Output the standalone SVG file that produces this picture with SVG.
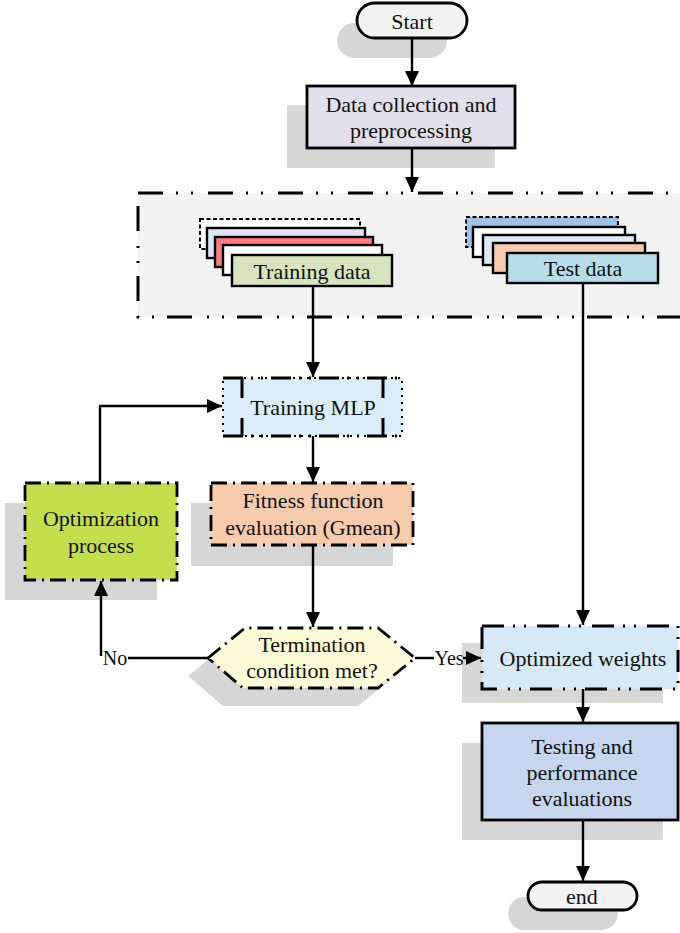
<svg xmlns="http://www.w3.org/2000/svg" width="680" height="933" viewBox="0 0 680 933">
<defs>
<marker id="arr" markerUnits="userSpaceOnUse" markerWidth="16" markerHeight="14" refX="15" refY="7" orient="auto">
<path d="M0,0 L15,7 L0,14 Z" fill="#000"/>
</marker>
<style>
text{font-family:"Liberation Serif","Times New Roman",serif;font-size:22px;fill:#111;text-anchor:middle}
.sh{fill:#d6d6d6;stroke:none}
.solid{stroke:#000;stroke-width:2.8}
.dd{stroke:#000;stroke-width:3;stroke-dasharray:22 9 2 9 2 11}
.dash1{stroke:#000;stroke-width:2.8;stroke-dasharray:16 6 2 6}
.stk{stroke:#000;stroke-width:2.4}
.conn{fill:none;stroke:#000;stroke-width:2.4}
.lbl{font-size:20px}
</style>
</defs>
<rect width="680" height="933" fill="#fff"/>

<g id="start">
<rect class="sh" x="337" y="23" width="110" height="35" rx="17.5"/>
<rect class="solid" x="357" y="3" width="110" height="35" rx="17.5" fill="#f3f3f3"/>
<text x="412" y="29">Start</text>
</g>

<g id="data-collection">
<rect class="sh" x="287" y="105" width="208" height="63"/>
<rect class="solid" x="307" y="86" width="208" height="62" fill="#e4dfec"/>
<text x="411" y="112">Data collection and</text>
<text x="411" y="138">preprocessing</text>
</g>

<g id="data-region">
<rect x="138" y="193" width="560" height="124" fill="#f2f2f2" stroke="#000" stroke-width="3" stroke-dasharray="25 13 2 13 2 15"/>
</g>

<g id="training-data">
<rect x="200" y="219" width="160" height="30" fill="#fff" stroke="#000" stroke-width="2" stroke-dasharray="4 2.5"/>
<rect class="stk" x="207" y="228" width="158" height="30" fill="#dce6f2"/>
<rect class="stk" x="215" y="237" width="158" height="30" fill="#ff7c80"/>
<rect class="stk" x="223" y="245" width="159" height="30" fill="#ffffff"/>
<rect class="stk" x="232" y="255" width="160" height="31" fill="#d7e4bd"/>
<text x="312" y="279">Training data</text>
</g>

<g id="test-data">
<rect x="466" y="217" width="152" height="30" fill="#9dc3e6" stroke="#000" stroke-width="2" stroke-dasharray="4 2.5"/>
<rect class="stk" x="473" y="227" width="152" height="30" fill="#ffffff"/>
<rect class="stk" x="483" y="235" width="152" height="30" fill="#deebf7"/>
<rect class="stk" x="493" y="243" width="152" height="30" fill="#f8cbad"/>
<rect class="stk" x="507" y="253" width="151" height="30" fill="#b7dde8"/>
<text x="583" y="276">Test data</text>
</g>

<g id="training-mlp">
<rect x="223" y="378" width="179" height="58" fill="#dbedf8" stroke="#000" stroke-width="2" stroke-dasharray="2 5"/>
<path d="M223,378 H402 M223,436 H402" fill="none" stroke="#000" stroke-width="3" stroke-dasharray="20 8 2 8 2 8"/>
<path d="M242,378 V398 M242,418 V436 M383,378 V398 M383,418 V436" fill="none" stroke="#000" stroke-width="3"/>
<text x="313" y="415">Training MLP</text>
</g>

<g id="fitness">
<rect class="sh" x="191" y="503" width="202" height="63"/>
<rect class="dash1" x="211" y="483" width="202" height="62" fill="#f8cbad"/>
<text x="313" y="508">Fitness function</text>
<text x="313" y="535">evaluation (Gmean)</text>
</g>

<g id="optimization">
<rect class="sh" x="5" y="503" width="152" height="97"/>
<rect class="dash1" x="25" y="483" width="152" height="97" fill="#c4df4c"/>
<text x="101" y="526">Optimization</text>
<text x="101" y="553">process</text>
</g>

<g id="termination">
<polygon class="sh" points="188,676 225,646 358,646 395,676 358,706 223,706"/>
<polygon class="dash1" points="208,658 245,628 378,628 415,658 378,688 243,688" fill="#fdfbd7"/>
<text x="312" y="652">Termination</text>
<text x="312" y="678">condition met?</text>
</g>

<g id="optimized-weights">
<rect class="sh" x="462" y="643" width="201" height="60"/>
<rect class="dd" x="482" y="626" width="196" height="63" fill="#d5eaf6"/>
<text x="583" y="666">Optimized weights</text>
</g>

<g id="testing">
<rect class="sh" x="462" y="743" width="201" height="97"/>
<rect class="solid" x="482" y="723" width="196" height="97" fill="#c6d6ee"/>
<text x="582" y="754">Testing and</text>
<text x="582" y="780">performance</text>
<text x="582" y="806">evaluations</text>
</g>

<g id="end">
<rect class="sh" x="508" y="897" width="110" height="33" rx="16.5"/>
<rect class="solid" x="528" y="882" width="109" height="28" rx="14" fill="#f3f3f3"/>
<text x="582" y="904">end</text>
</g>

<g id="connectors">
<path class="conn" d="M412,38 V86" marker-end="url(#arr)"/>
<path class="conn" d="M412,148 V192" marker-end="url(#arr)"/>
<path class="conn" d="M313,286 V377" marker-end="url(#arr)"/>
<path class="conn" d="M583,283 V625" marker-end="url(#arr)"/>
<path class="conn" d="M313,436 V482" marker-end="url(#arr)"/>
<path class="conn" d="M313,545 V627" marker-end="url(#arr)"/>
<path class="conn" d="M208,658 H128"/>
<path class="conn" d="M101,656 V581" marker-end="url(#arr)"/>
<text class="lbl" x="115" y="665">No</text>
<path class="conn" d="M415,658 H434"/>
<text class="lbl" x="449" y="665">Yes</text>
<path class="conn" d="M463,658 H481" marker-end="url(#arr)"/>
<path class="conn" d="M100,483 V406 H222" marker-end="url(#arr)"/>
<path class="conn" d="M583,689 V722" marker-end="url(#arr)"/>
<path class="conn" d="M583,820 V881" marker-end="url(#arr)"/>
</g>
</svg>
